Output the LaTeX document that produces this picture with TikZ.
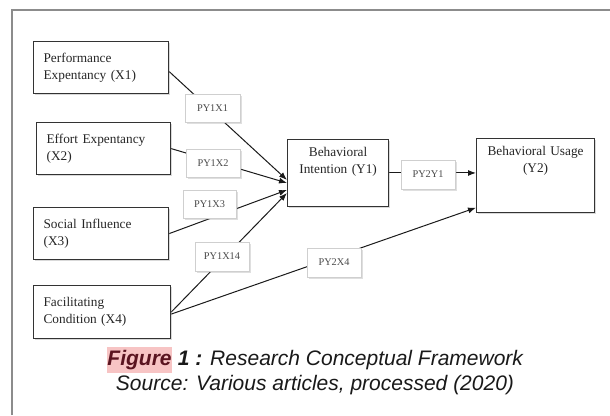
\documentclass[tikz,border=0pt]{standalone}
\usepackage{fontspec}
\setmainfont{Liberation Serif}
\newfontfamily\captionfont{Liberation Sans}
\usetikzlibrary{positioning}
\usetikzlibrary{shadows}
\usetikzlibrary{arrows.meta}
\pgfdeclarelayer{background}
\pgfdeclarelayer{foreground}
\pgfsetlayers{background,main,foreground}
\definecolor{boxline}{HTML}{333333}
\definecolor{pathline}{HTML}{1A1A1A}
\definecolor{labeltext}{HTML}{4A4A4A}
\definecolor{labelline}{HTML}{CFCFCF}
\definecolor{framegray}{HTML}{8C8C8C}
\definecolor{markpink}{HTML}{F7C4C4}
\definecolor{markred}{HTML}{5A1420}

\begin{document}
\begin{tikzpicture}[x=1pt,y=-1pt,
						varnode/.style={draw=boxline, line width=1.2pt, fill=white, anchor=north west, inner xsep=10pt, align=left, text=black!85, font=\fontsize{13.3}{17}\selectfont, drop shadow={shadow xshift=1.5pt, shadow yshift=-1.5pt, opacity=0.3}},
						outnode/.style={varnode, align=center, inner ysep=8pt},
						pathnode/.style={draw=labelline, line width=0.6pt, fill=white, text=labeltext, minimum width=54pt, minimum height=28pt, inner sep=0pt, font=\fontsize{10.3}{12}\selectfont, drop shadow={shadow xshift=1.5pt, shadow yshift=-1.5pt, opacity=0.25}},
						arrowline/.style={-{Latex[length=8pt,width=6pt]}, line width=1pt, draw=pathline},
						capnode/.style={anchor=base, inner sep=0pt, text=black!90, font=\captionfont\itshape\fontsize{21}{25}\selectfont},
						]
						\useasboundingbox (0,0) rectangle (610,415);
						%Frame
						\draw[framegray, line width=1.2pt] (12,415) -- (12,10) -- (610,10);
						%Nodes
						\node[varnode, minimum width=135pt, minimum height=52pt, text width=115pt] (x1) at (33,41) {Performance\\Expentancy (X1)};
						\node[varnode, minimum width=134pt, minimum height=52pt, text width=114pt] (x2) at (36,122) {Effort Expentancy\\(X2)};
						\node[varnode, minimum width=135pt, minimum height=52pt, text width=115pt] (x3) at (33,207) {Social Influence\\(X3)};
						\node[varnode, minimum width=137pt, minimum height=53pt, text width=117pt] (x4) at (33,285) {Facilitating\\Condition (X4)};
						\node[outnode, minimum width=101pt, text width=81pt, text depth=41.5pt] (y1) at (287,139) {Behavioral\\Intention (Y1)};
						\node[outnode, minimum width=118pt, text width=98pt, text depth=49pt] (y2) at (476,138) {Behavioral Usage\\(Y2)};
						
						\node[pathnode, minimum width=55pt] (py1x1) at (212.5,108) {PY1X1};
						\node[pathnode] (py1x2) at (213,163) {PY1X2};
						\node[pathnode, minimum width=53pt] (py1x3) at (209.5,204) {PY1X3};
						\node[pathnode, minimum height=29pt] (py1x4) at (222,256.5) {PY1X14};
						\node[pathnode, minimum height=29pt] (py2x4) at (334,262.5) {PY2X4};
						\node[pathnode, minimum height=29pt] (py2y1) at (428,174.5) {PY2Y1};
						
						%Caption
						\node[capnode] (figcap) at (315,365) {\setlength{\fboxsep}{0.5pt}\colorbox{markpink}{\strut\bfseries\color{markred}Figure} \textbf{1 :} Research Conceptual Framework};
						\node[capnode] (figsrc) at (315,390) {Source: Various articles, processed (2020)};
						
						\begin{pgfonlayer}{background}
						%Lines
						\draw[arrowline] ([yshift=-4pt]x1.east) -- ([yshift=-7pt]y1.west);
						\draw[arrowline] (x2.east) -- ([yshift=-10pt]y1.west);
						\draw[arrowline] (x3.east) -- ([yshift=-17pt]y1.west);
						\draw[arrowline] (x4.east) -- ([yshift=-20pt]y1.west);
						\draw[arrowline] ([yshift=-2pt]x4.east) -- ([yshift=-32pt]y2.west);
						\draw[arrowline] (y1.east) -- (y1.east -| y2.west);
						\end{pgfonlayer}
					\end{tikzpicture}
\end{document}
